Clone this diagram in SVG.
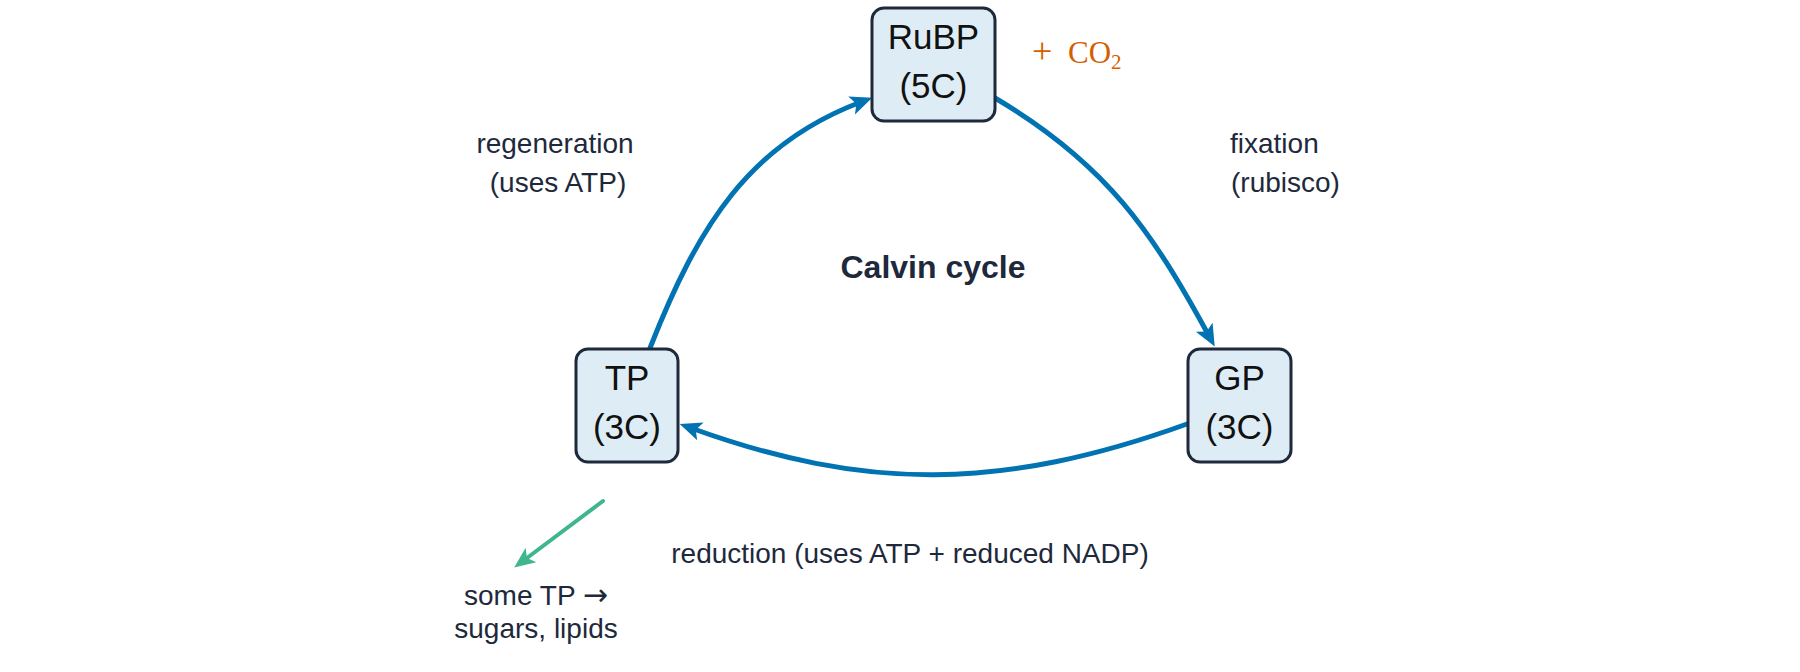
<svg xmlns="http://www.w3.org/2000/svg" width="1800" height="672" viewBox="0 0 1800 672">
<style>
.box{fill:#deedf5;stroke:#1e293b;stroke-width:3}
.nt{font-family:"Liberation Sans",Arial,sans-serif;font-size:35px;fill:#111;text-anchor:middle}
.lbl{font-family:"Liberation Sans",Arial,sans-serif;font-size:28px;fill:#1e293b}
.mid{text-anchor:middle}
.conn{fill:none;stroke:#0173b2;stroke-width:5;stroke-linecap:round}
.gconn{fill:none;stroke:#3fb68d;stroke-width:4;stroke-linecap:round}
</style>
<defs>
<marker id="ab" viewBox="-12 -11 25 22" markerWidth="25" markerHeight="22" refX="0" refY="0" markerUnits="userSpaceOnUse" orient="auto">
<path d="M12,0 L-10,-9.5 L-5,0 L-10,9.5 Z" fill="#0173b2"/>
</marker>
<marker id="ag" viewBox="-12 -11 25 22" markerWidth="25" markerHeight="22" refX="0" refY="0" markerUnits="userSpaceOnUse" orient="auto">
<path d="M11,0 L-10,-9 L-5,0 L-10,9 Z" fill="#3fb68d"/>
</marker>
</defs>
<rect width="1800" height="672" fill="#ffffff"/>
<g id="connectors">
<path class="conn" d="M995,98 C1107,164 1153,233 1209,336" marker-end="url(#ab)"/>
<path class="conn" d="M1187,424 C1001,491 865,491 691,428" marker-end="url(#ab)"/>
<path class="conn" d="M650,348 C698,226 749,144 861,102" marker-end="url(#ab)"/>
<path class="gconn" d="M603,501 L523,561" marker-end="url(#ag)"/>
</g>
<g id="rubp">
<rect class="box" x="872" y="8" width="123" height="113" rx="12"/>
<text class="nt" x="933.5" y="49">RuBP</text>
<text class="nt" x="933.5" y="98">(5C)</text>
</g>
<g id="gp">
<rect class="box" x="1188" y="349" width="103" height="113" rx="12"/>
<text class="nt" x="1239.5" y="390">GP</text>
<text class="nt" x="1239.5" y="439">(3C)</text>
</g>
<g id="tp">
<rect class="box" x="576" y="349" width="102" height="113" rx="12"/>
<text class="nt" x="627" y="390">TP</text>
<text class="nt" x="627" y="439">(3C)</text>
</g>
<g id="co2">
<text x="1032" y="63" font-family="'Liberation Serif','Times New Roman',serif" font-size="31" fill="#d55e00"><tspan font-size="36">+</tspan><tspan x="1068">CO</tspan><tspan font-size="21" dy="6">2</tspan></text>
</g>
<g id="labels">
<text class="lbl mid" x="555" y="153">regeneration</text>
<text class="lbl mid" x="558" y="192">(uses ATP)</text>
<text class="lbl" x="1230" y="153">fixation</text>
<text class="lbl" x="1231" y="192">(rubisco)</text>
<text class="lbl" x="910" y="563" text-anchor="middle">reduction (uses ATP + reduced NADP)</text>
<text class="lbl mid" x="536" y="605">some TP <tspan font-family="'DejaVu Sans',sans-serif" font-size="30">→</tspan></text>
<text class="lbl mid" x="536" y="638">sugars, lipids</text>
<text x="933" y="278" text-anchor="middle" font-family="'Liberation Sans',Arial,sans-serif" font-size="32" font-weight="bold" fill="#1e293b">Calvin cycle</text>
</g>
</svg>
